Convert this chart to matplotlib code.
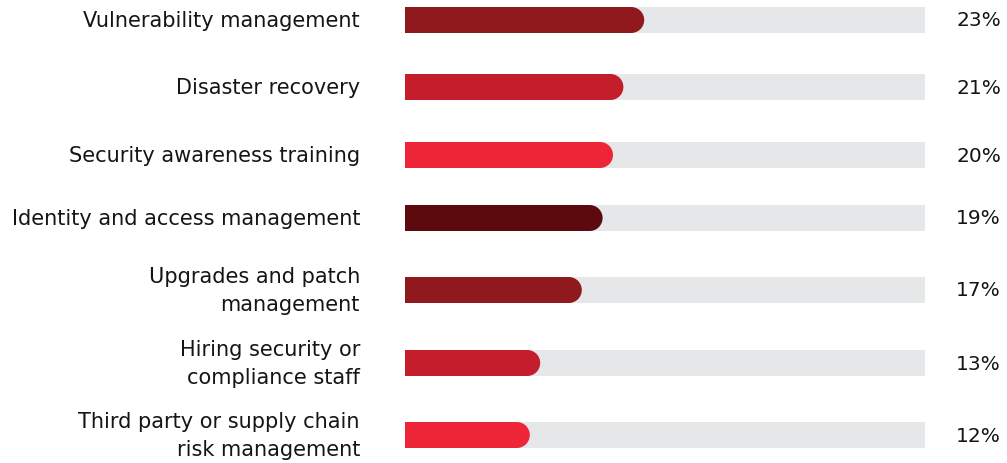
import matplotlib
matplotlib.use("Agg")
import matplotlib.pyplot as plt
from matplotlib.patches import Ellipse

categories = [
    "Vulnerability management",
    "Disaster recovery",
    "Security awareness training",
    "Identity and access management",
    "Upgrades and patch\nmanagement",
    "Hiring security or\ncompliance staff",
    "Third party or supply chain\nrisk management",
]
values = [23, 21, 20, 19, 17, 13, 12]
value_labels = ["23%", "21%", "20%", "19%", "17%", "13%", "12%"]
track_max = 50

colors = ["#8f191c", "#c41d2b", "#ee2536", "#5c0a0d", "#8f191c", "#c41d2b", "#ee2536"]
track_color = "#e6e7e9"
text_color = "#151515"

# layout: row centres in pixel units (top = 0)
row_y = [20, 87, 155, 218, 290, 363, 435]
bar_h = 26
W, H = 1007, 463

plt.rcParams['font.family'] = ['DejaVu Sans']

fig = plt.figure(figsize=(W / 100, H / 100), dpi=100)
x0, x1 = 405, 925
ax = fig.add_axes([x0 / W, 0, (x1 - x0) / W, 1])
ax.set_xlim(0, track_max)
ax.set_ylim(H, 0)
ax.axis("off")

px = track_max / (x1 - x0)  # data units per pixel in x
r = bar_h / 2

for i, (v, c, y) in enumerate(zip(values, colors, row_y)):
    ax.barh(y, track_max, height=bar_h, left=0, color=track_color, linewidth=0)
    ax.barh(y, v - r * px, height=bar_h, left=0, color=c, linewidth=0)
    ax.add_patch(Ellipse((v - r * px, y), width=2 * r * px, height=bar_h,
                         facecolor=c, edgecolor="none"))
    ax.text(-45 * px, y + 1, categories[i], ha="right", va="center", fontsize=15,
            color=text_color, linespacing=1.5)
    ax.text(track_max + 76 * px, y + 1, value_labels[i], ha="right", va="center",
            fontsize=14.5, color=text_color)

fig.savefig("out.png", dpi=100, facecolor="white")
